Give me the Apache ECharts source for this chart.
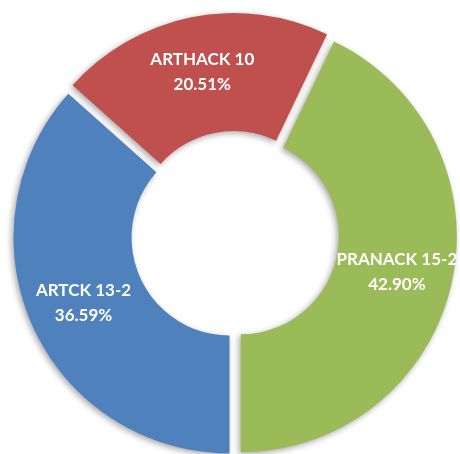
<!DOCTYPE html>
<html>
<head>
<meta charset="utf-8">
<script src="https://cdn.jsdelivr.net/npm/echarts@6/dist/echarts.min.js"></script>
<style>
  html, body { margin: 0; padding: 0; background: #fff; }
  #pie { width: 460px; height: 454px; }
</style>
</head>
<body>
<div id="pie"></div>
<script>
// slice names and share (%), clockwise from the top-right
var names = ['PRANACK 15-2', 'ARTCK 13-2', 'ARTHACK 10'];
var shares = [42.90, 36.59, 20.51];
var colors = ['#9BBB59', '#4F81BD', '#C0504D'];

var myChart = echarts.init(document.getElementById('pie'));

var data = [];
for (var i = 0; i < names.length; i++) {
    data.push({
        name: names[i],
        value: shares[i],
        selected: true,
        itemStyle: { color: colors[i] }
    });
}

var option = {
    backgroundColor: '#fff',
    animation: false,
    series: [
        {
            type: 'pie',
            center: [235, 235],
            radius: [98, 216],
            startAngle: 64.44,
            clockwise: true,
            selectedMode: 'multiple',
            selectedOffset: 6,
            itemStyle: {
                shadowBlur: 6,
                shadowColor: 'rgba(0,0,0,0.35)',
                shadowOffsetX: -2,
                shadowOffsetY: 2
            },
            label: {
                show: true,
                position: 'inside',
                color: '#fff',
                fontFamily: 'Lato',
                fontWeight: 'bold',
                fontSize: 17,
                lineHeight: 25,
                formatter: function (p) {
                    return p.name + '\n' + p.value.toFixed(2) + '%';
                }
            },
            labelLine: { show: false },
            emphasis: { disabled: true },
            data: data
        }
    ]
};

myChart.setOption(option);
</script>
</body>
</html>
